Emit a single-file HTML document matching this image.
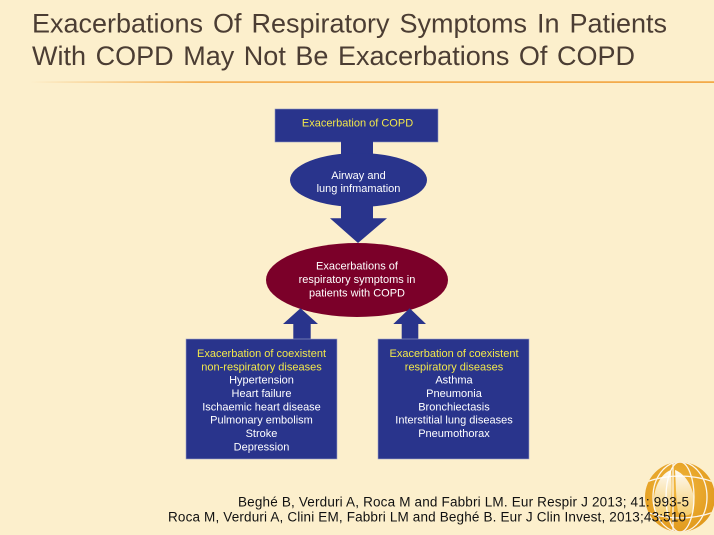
<!DOCTYPE html>
<html>
<head>
<meta charset="utf-8">
<style>
  html,body{margin:0;padding:0;background:#fcefcc;}
  svg{display:block;}
  text{font-family:"Liberation Sans",Arial,sans-serif;}
</style>
</head>
<body>
<svg width="714" height="535" viewBox="0 0 714 535" xmlns="http://www.w3.org/2000/svg">
  <defs>
    <linearGradient id="ol" x1="0" y1="0" x2="1" y2="0">
      <stop offset="0" stop-color="#f2a23a" stop-opacity="0"/>
      <stop offset="0.25" stop-color="#f2a23a" stop-opacity="0.9"/>
      <stop offset="1" stop-color="#f2a23a" stop-opacity="1"/>
    </linearGradient>
    <radialGradient id="globe" cx="0.45" cy="0.4" r="0.65">
      <stop offset="0" stop-color="#f2b840"/>
      <stop offset="1" stop-color="#e0981a"/>
    </radialGradient>
    <linearGradient id="lung" x1="0" y1="0" x2="0" y2="1">
      <stop offset="0" stop-color="#ffffff"/>
      <stop offset="1" stop-color="#f6cf70"/>
    </linearGradient>
    <clipPath id="gc"><circle cx="680" cy="497" r="35"/></clipPath>
  </defs>

  <rect x="0" y="0" width="714" height="535" fill="#fcefcc"/>

  <!-- Title -->
  <text x="32" y="32.5" font-size="27" fill="#4b3d33" word-spacing="2.5" textLength="635" lengthAdjust="spacing">Exacerbations Of Respiratory Symptoms In Patients</text>
  <text x="32" y="65" font-size="27" fill="#4b3d33" word-spacing="2" textLength="603" lengthAdjust="spacing">With COPD May Not Be Exacerbations Of COPD</text>
  <rect x="30" y="81.3" width="684" height="1.6" fill="url(#ol)"/>

  <!-- Top box -->
  <rect x="275" y="109" width="163" height="33" fill="#29348c" stroke="#8d93c0" stroke-width="0.6"/>
  <text x="357.5" y="126.5" font-size="11" fill="#f2e84a" text-anchor="middle">Exacerbation of COPD</text>

  <!-- shaft box -> ellipse -->
  <rect x="341" y="141" width="32" height="16" fill="#29348c"/>

  <!-- Ellipse 1 -->
  <ellipse cx="358.5" cy="180" rx="68.5" ry="27" fill="#29348c"/>
  <text x="358.5" y="179" font-size="11" fill="#ffffff" text-anchor="middle">Airway and</text>
  <text x="358.5" y="192" font-size="11" fill="#ffffff" text-anchor="middle">lung infmamation</text>

  <!-- Down arrow -->
  <path d="M341,204 L373,204 L373,218.3 L387,218.3 L358,243 L330,218.3 L341,218.3 Z" fill="#29348c"/>

  <!-- Red ellipse -->
  <ellipse cx="357" cy="280" rx="91" ry="37" fill="#7b0029"/>
  <text x="357" y="269.7" font-size="11" fill="#ffffff" text-anchor="middle">Exacerbations of</text>
  <text x="357" y="283" font-size="11" fill="#ffffff" text-anchor="middle">respiratory symptoms in</text>
  <text x="357" y="296.3" font-size="11" fill="#ffffff" text-anchor="middle">patients with COPD</text>

  <!-- Up arrows -->
  <path d="M293.3,340 L293.3,324 L283,324 L300.5,308.3 L318,324 L310.7,324 L310.7,340 Z" fill="#29348c"/>
  <path d="M401.7,340 L401.7,324 L393.3,324 L409.7,308.3 L426,324 L418.3,324 L418.3,340 Z" fill="#29348c"/>

  <!-- Left box -->
  <rect x="186" y="339" width="151" height="120" fill="#29348c" stroke="#a0a4c8" stroke-width="0.6"/>
  <g font-size="11" text-anchor="middle">
    <text x="261.5" y="357" fill="#f2e84a">Exacerbation of coexistent</text>
    <text x="261.5" y="370.3" fill="#f2e84a">non-respiratory diseases</text>
    <text x="261.5" y="383.7" fill="#ffffff">Hypertension</text>
    <text x="261.5" y="397" fill="#ffffff">Heart failure</text>
    <text x="261.5" y="410.3" fill="#ffffff">Ischaemic heart disease</text>
    <text x="261.5" y="423.7" fill="#ffffff">Pulmonary embolism</text>
    <text x="261.5" y="437" fill="#ffffff">Stroke</text>
    <text x="261.5" y="450.3" fill="#ffffff">Depression</text>
  </g>

  <!-- Right box -->
  <rect x="378" y="339" width="151" height="120" fill="#29348c" stroke="#a0a4c8" stroke-width="0.6"/>
  <g font-size="11" text-anchor="middle">
    <text x="454" y="357" fill="#f2e84a">Exacerbation of coexistent</text>
    <text x="454" y="370.3" fill="#f2e84a">respiratory diseases</text>
    <text x="454" y="383.7" fill="#ffffff">Asthma</text>
    <text x="454" y="397" fill="#ffffff">Pneumonia</text>
    <text x="454" y="410.3" fill="#ffffff">Bronchiectasis</text>
    <text x="454" y="423.7" fill="#ffffff">Interstitial lung diseases</text>
    <text x="454" y="437" fill="#ffffff">Pneumothorax</text>
  </g>

  <!-- Logo globe -->
  <circle cx="680" cy="497" r="35" fill="url(#globe)"/>
  <g clip-path="url(#gc)">
    <path d="M671,470 C660,474 652,490 654,508 C656,516 664,518 670,512 C672,500 672,485 671,470 Z" fill="url(#lung)" opacity="0.95"/>
    <path d="M675,470 C686,474 696,490 694,508 C692,516 684,518 678,512 C676,500 676,485 675,470 Z" fill="url(#lung)" opacity="0.95"/>
    <g fill="none" stroke="#ffffff" stroke-width="1.3" opacity="0.9">
      <ellipse cx="680" cy="497" rx="14" ry="35"/>
      <ellipse cx="680" cy="497" rx="27" ry="35"/>
      <path d="M646,482 Q680,470 714,482"/>
      <path d="M646,512 Q680,524 714,512"/>
      <line x1="673" y1="462" x2="673" y2="532"/>
    </g>
  </g>

  <!-- References -->
  <text x="238" y="506.7" font-size="13.5" fill="#111111" textLength="451" lengthAdjust="spacing">Beghé B, Verduri A, Roca M and Fabbri LM. Eur Respir J 2013; 41: 993-5</text>
  <text x="168" y="521.7" font-size="13.5" fill="#111111" textLength="518" lengthAdjust="spacing">Roca M, Verduri A, Clini EM, Fabbri LM and Beghé B. Eur J Clin Invest, 2013;43:510</text>
</svg>
</body>
</html>
